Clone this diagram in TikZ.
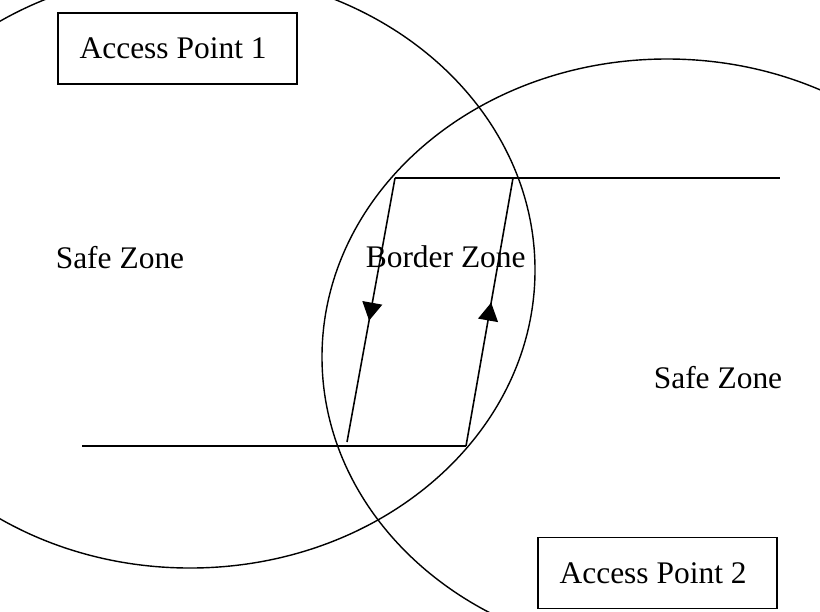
\documentclass[tikz,border=0pt]{standalone}
\usepackage{fontspec}
\setmainfont{Liberation Serif}
\usetikzlibrary{arrows.meta,calc,decorations.markings}

\begin{document}
\begin{tikzpicture}[x=0.2mm, y=-0.2mm, line width=0.9pt,
	every node/.style={font=\fontsize{17.9}{20}\selectfont},
	apbox/.style={draw, line width=0.9pt, minimum width=4.78cm, minimum height=1.42cm, inner sep=0pt},
	zonetext/.style={anchor=base west, inner sep=0pt},
	midarrow/.style={postaction={decorate}, decoration={markings,
		mark=at position #1 with {\arrow{Triangle[length=3.6mm, width=4mm]}}}}]
	\useasboundingbox (0,0) rectangle (820,611);
	\clip (0,0) rectangle (820,611);
	% coverage of the two access points
	\draw[line width=0.8pt] (190,270) ellipse [x radius=6.9cm, y radius=5.96cm];
	\draw[line width=0.8pt] (667,357) ellipse [x radius=6.9cm, y radius=5.96cm];
	% zone boundaries
	\coordinate (tl) at (395,178);
	\coordinate (tr) at (780,178);
	\coordinate (bl) at (82,446);
	\coordinate (br) at (466,446);
	\coordinate (lb) at (347,442);
	\coordinate (rt) at (513,178);
	\draw (tl) -- (tr);
	\draw (bl) -- (br);
	\draw[midarrow=0.54] (tl) -- (lb);
	\draw[midarrow=0.535] (br) -- (rt);
	% labels
	\node[apbox] (ap1) at (177.5,48.5) {Access Point 1\hspace*{5pt}};
	\node[apbox] (ap2) at (657.5,573) {Access Point 2\hspace*{5pt}};
	\node[zonetext] (safe1) at (55,268) {Safe Zone};
	\node[zonetext] (border) at (365,267) {Border Zone};
	\node[zonetext] (safe2) at (653,388) {Safe Zone};
\end{tikzpicture}
\end{document}
